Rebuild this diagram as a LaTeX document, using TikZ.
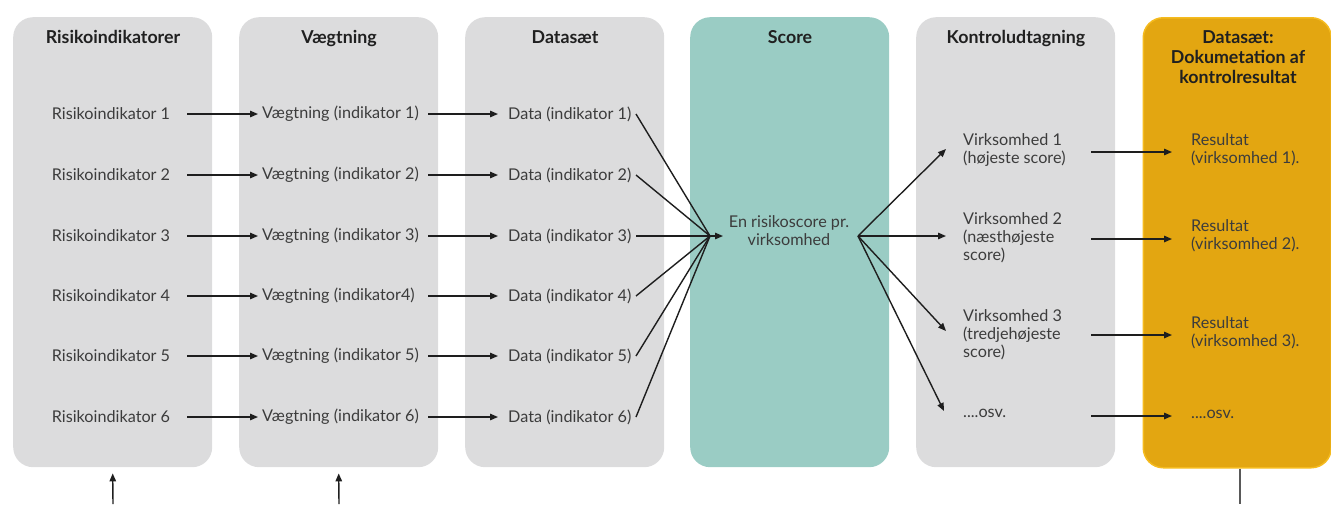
\documentclass[tikz,border=0pt]{standalone}
\usepackage{fontspec}
\setmainfont{Lato}
\usetikzlibrary{arrows.meta}
\definecolor{boxgray}{HTML}{DCDCDD}
\definecolor{scoreteal}{HTML}{9ACCC4}
\definecolor{orangefill}{HTML}{E3A611}
\definecolor{orangeedge}{HTML}{F5BB1E}
\definecolor{txt}{HTML}{3C3C3C}
\definecolor{ttl}{HTML}{202020}
\definecolor{arrcol}{HTML}{1E1E1E}
\begin{document}
\begin{tikzpicture}[x=1pt,y=-1pt,
  colbox/.style={rectangle, rounded corners=20pt, minimum width=199pt, minimum height=450pt, inner sep=0pt, anchor=north west},
  ttlnode/.style={font=\fontsize{17.8}{20}\selectfont\bfseries, text=ttl, align=center, anchor=north, inner sep=0pt},
  item/.style={font=\fontsize{16.2}{18}\selectfont, text=txt, inner sep=0pt},
  itemL/.style={item, anchor=west, align=left},
  arr/.style={draw=arrcol, line width=1.4pt, -{Triangle[length=8pt,width=6.5pt]}},
  ln/.style={draw=arrcol, line width=1.4pt}
]
\useasboundingbox (0,0) rectangle (1331,504);
% column boxes
\node[colbox, fill=boxgray] (b1) at (13,17) {};
\node[colbox, fill=boxgray] (b2) at (239,17) {};
\node[colbox, fill=boxgray] (b3) at (465,17) {};
\node[colbox, fill=scoreteal] (b4) at (690,17) {};
\node[colbox, fill=boxgray] (b5) at (916,17) {};
\node[colbox, fill=orangefill, draw=orangeedge, line width=1.5pt, minimum width=188pt] (b6) at (1142.5,17) {};
% titles
\node[ttlnode] (t1) at (113,30) {Risikoindikatorer};
\node[ttlnode] (t2) at (339,30) {Vægtning};
\node[ttlnode] (t3) at (565,30) {Datasæt};
\node[ttlnode] (t4) at (790,30) {Score};
\node[ttlnode] (t5) at (1016,30) {Kontroludtagning};
\node[ttlnode] (t6) at (1238,30) {Datasæt:\\Dokumetation af\\kontrolresultat};
% column 1
\foreach \i/\y in {1/114,2/175,3/236,4/296,5/356,6/417}{
  \node[item] (r\i) at (111,\y) {Risikoindikator \i};
}
% column 2
\node[itemL] (v1) at (262,114) {Vægtning (indikator 1)};
\node[itemL] (v2) at (262,175) {Vægtning (indikator 2)};
\node[itemL] (v3) at (262,236) {Vægtning (indikator 3)};
\node[itemL] (v4) at (262,296) {Vægtning (indikator4)};
\node[itemL] (v5) at (262,356) {Vægtning (indikator 5)};
\node[itemL] (v6) at (262,417) {Vægtning (indikator 6)};
% column 3
\foreach \i/\y in {1/114,2/175,3/236,4/296,5/356,6/417}{
  \node[itemL] (d\i) at (508,\y) {Data (indikator \i)};
}
% score
\node[item, align=center] (sc) at (789,231) {En risikoscore pr.\\virksomhed};
% column 5
\node[itemL, anchor=north west] (k1) at (963,133) {Virksomhed 1\\(højeste score)};
\node[itemL, anchor=north west] (k2) at (963,212) {Virksomhed 2\\(næsthøjeste\\score)};
\node[itemL, anchor=north west] (k3) at (963,309) {Virksomhed 3\\(tredjehøjeste\\score)};
\node[itemL] (k4) at (963,413) {....osv.};
% column 6
\node[itemL, anchor=north west] (e1) at (1191,133) {Resultat\\(virksomhed 1).};
\node[itemL, anchor=north west] (e2) at (1191,219) {Resultat\\(virksomhed 2).};
\node[itemL, anchor=north west] (e3) at (1191,316) {Resultat\\(virksomhed 3).};
\node[itemL] (e4) at (1191,414) {....osv.};
% helper coordinates
\coordinate (x1s) at (187,0);
\coordinate (x1e) at (258,0);
\coordinate (x2s) at (428,0);
\coordinate (x2e) at (498,0);
\coordinate (x3s) at (636,0);
\coordinate (conv) at (710,236);
\coordinate (convtip) at (723,236);
\coordinate (sout) at (858,236);
\coordinate (k1in) at (946,149);
\coordinate (k2in) at (946,236);
\coordinate (k3in) at (946,331);
\coordinate (k4in) at (944,411);
\coordinate (x5s) at (1091,0);
\coordinate (x5e) at (1172,0);
% arrows col1 -> col2 -> col3
\foreach \i in {1,...,6}{
  \draw[arr] (r\i -| x1s) -- (r\i -| x1e);
  \draw[arr] (v\i -| x2s) -- (v\i -| x2e);
}
% fan in
\foreach \i in {1,2,4,5,6}{
  \draw[ln] (d\i -| x3s) -- (conv);
}
\draw[arr] (d3 -| x3s) -- (convtip);
% fan out
\draw[arr] (sout) -- (k1in);
\draw[arr] (sout) -- (k2in);
\draw[arr] (sout) -- (k3in);
\draw[arr] (sout) -- (k4in);
% col5 -> col6
\coordinate (y1) at (0,152);
\coordinate (y2) at (0,239);
\coordinate (y3) at (0,335);
\coordinate (y4) at (0,416);
\foreach \i in {1,...,4}{
  \draw[arr] (y\i -| x5s) -- (y\i -| x5e);
}
% bottom connectors
\coordinate (in1) at (113,504);
\coordinate (in2) at (339,504);
\coordinate (out6) at (1240,504);
\draw[arr] (in1) -- ([yshift=-6pt]b1.south);
\draw[arr] (in2) -- ([yshift=-6pt]b2.south);
\draw[draw=black!65, line width=1.4pt] (b6.south -| out6) -- (out6);
\end{tikzpicture}
\end{document}
